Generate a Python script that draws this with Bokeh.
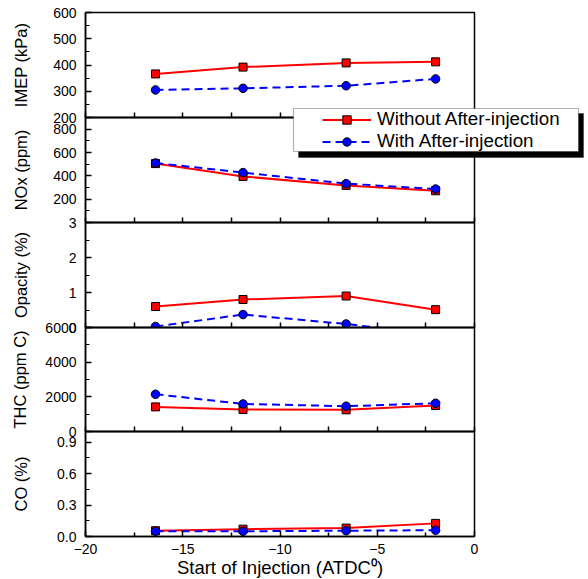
from bokeh.plotting import figure
from bokeh.layouts import column
from bokeh.models import (FixedTicker, Legend, LegendItem, BoxAnnotation,
                          NumeralTickFormatter, Range1d)
from bokeh.embed import file_html
from bokeh.resources import INLINE

# ---------------- data ----------------
soi = [-16.4, -11.9, -6.6, -2.0]

imep_without = [366, 392, 408, 412]
imep_with = [305, 311, 321, 347]

nox_without = [505, 395, 318, 272]
nox_with = [510, 428, 333, 287]

opacity_without = [0.60, 0.80, 0.90, 0.51]
opacity_with = [0.03, 0.37, 0.10, -0.20]

thc_without = [1420, 1270, 1250, 1500]
thc_with = [2150, 1590, 1460, 1630]

co_without = [0.055, 0.07, 0.08, 0.125]
co_with = [0.05, 0.05, 0.055, 0.06]

x_major = [-20, -15, -10, -5, 0]
x_minor = [-17.5, -12.5, -7.5, -2.5]

series_labels = ["Without After-injection", "With After-injection"]

panels = [
    dict(label="IMEP (kPa)", lo=200, hi=600, major=[200, 300, 400, 500, 600],
         minor=[250, 350, 450, 550], fmt="0", a=imep_without, b=imep_with,
         fh=105, lstand=20),
    dict(label="NOx (ppm)", lo=0, hi=900, major=[200, 400, 600, 800],
         minor=[100, 300, 500, 700], fmt="0", a=nox_without, b=nox_with,
         fh=105, lstand=20),
    dict(label="Opacity (%)", lo=0, hi=3, major=[0, 1, 2, 3],
         minor=[0.5, 1.5, 2.5], fmt="0", a=opacity_without, b=opacity_with,
         fh=105, lstand=36),
    dict(label="THC (ppm C)", lo=0, hi=6000, major=[0, 2000, 4000, 6000],
         minor=[1000, 3000, 5000], fmt="0", a=thc_without, b=thc_with,
         fh=104, lstand=13),
    dict(label="CO (%)", lo=0, hi=1.0, major=[0, 0.3, 0.6, 0.9],
         minor=[0.15, 0.45, 0.75], fmt="0.0", a=co_without, b=co_with,
         fh=105, lstand=24),
]

FONT = "Liberation Sans"
RED = "#FF0000"
BLUE = "#0000FF"
BLUE_DASH = "8 5"


def add_series(fig, ya_vals, yb_vals):
    rl = fig.line(soi, ya_vals, line_color=RED, line_width=2)
    bl = fig.line(soi, yb_vals, line_color=BLUE, line_width=2, line_dash=BLUE_DASH)
    rs = fig.scatter(soi, ya_vals, marker="square", size=8, fill_color=RED,
                     line_color="black", line_width=1)
    bs = fig.scatter(soi, yb_vals, marker="circle", size=8.5, fill_color=BLUE,
                     line_color="black", line_width=1)
    return rl, bl, rs, bs


figs = []
n = len(panels)
for i, spec in enumerate(panels):
    last = (i == n - 1)
    p = figure(frame_width=389, frame_height=spec["fh"],
               x_range=Range1d(-20, 0), y_range=Range1d(spec["lo"], spec["hi"]),
               output_backend="svg", toolbar_location=None,
               min_border_left=85, min_border_right=114,
               min_border_top=12, min_border_bottom=43 if last else 12)
    p.background_fill_color = None
    p.border_fill_color = None
    p.outline_line_color = "black"
    p.outline_line_width = 1.5
    p.grid.visible = False

    # y axis
    ya = p.yaxis[0]
    ya.ticker = FixedTicker(ticks=spec["major"], minor_ticks=spec["minor"])
    ya.formatter = NumeralTickFormatter(format=spec["fmt"])
    ya.axis_label = spec["label"]
    ya.axis_label_text_font = FONT
    ya.axis_label_text_font_size = "16.5px"
    ya.axis_label_text_font_style = "normal"
    ya.axis_label_text_color = "black"
    ya.axis_label_standoff = spec["lstand"]
    ya.major_label_text_font = FONT
    ya.major_label_text_font_size = "14px"
    ya.major_label_text_color = "black"
    ya.major_label_standoff = 9
    ya.major_tick_in = 6
    ya.major_tick_out = 0
    ya.minor_tick_in = 4
    ya.minor_tick_out = 0
    ya.axis_line_width = 1.5
    ya.major_tick_line_width = 1.5
    ya.minor_tick_line_width = 1.2

    # x axis
    xa = p.xaxis[0]
    xa.major_tick_out = 0
    xa.minor_tick_out = 0
    xa.axis_line_width = 1.5
    xa.major_tick_line_width = 1.5
    xa.minor_tick_line_width = 1.5
    if last:
        xa.ticker = FixedTicker(ticks=x_major, minor_ticks=x_minor)
        xa.major_tick_in = 6
        xa.minor_tick_in = 4
        xa.major_label_text_font = FONT
        xa.major_label_text_font_size = "14px"
        xa.major_label_text_color = "black"
        xa.major_label_standoff = 7
        xa.axis_label = "Start of Injection (ATDC\u2070)"
        xa.axis_label_text_font = FONT
        xa.axis_label_text_font_size = "18.5px"
        xa.axis_label_text_font_style = "normal"
        xa.axis_label_text_color = "black"
        xa.axis_label_standoff = 0
    else:
        # unlabelled shared boundary: ticks only
        xa.ticker = FixedTicker(ticks=[], minor_ticks=x_major + x_minor)
        xa.minor_tick_in = 5
        xa.major_label_standoff = 0

    add_series(p, spec["a"], spec["b"])

    if i > 0:
        p.styles = {"margin-top": "-24px"}
    figs.append(p)

# ---------------- legend overlay (own transparent frame, separate root) ----------------
lg = figure(width=588, height=58, x_range=Range1d(100, 101),
            y_range=Range1d(0, 1), output_backend="svg", toolbar_location=None,
            x_axis_location=None, y_axis_location=None,
            min_border_left=288, min_border_right=2,
            min_border_top=0, min_border_bottom=0)
lg.background_fill_color = None
lg.border_fill_color = None
lg.outline_line_color = None
lg.grid.visible = False

# same series drawn outside this overlay's visible range; used for legend icons
rl, bl, rs, bs = add_series(lg, imep_without, imep_with)

shadow = BoxAnnotation(left=10, right=295, top=48, bottom=4,
                       left_units="screen", right_units="screen",
                       top_units="screen", bottom_units="screen",
                       fill_color="black", fill_alpha=1, line_color="black")
box = BoxAnnotation(left=5, right=290, top=53, bottom=10,
                    left_units="screen", right_units="screen",
                    top_units="screen", bottom_units="screen",
                    fill_color="white", fill_alpha=1,
                    line_color="black", line_width=1.2)
lg.add_layout(shadow)
lg.add_layout(box)
legend = Legend(items=[LegendItem(label=series_labels[0], renderers=[rl, rs]),
                       LegendItem(label=series_labels[1], renderers=[bl, bs])],
                location=(34, 9), border_line_color=None,
                background_fill_alpha=0, padding=0, spacing=0, margin=0,
                glyph_width=49, glyph_height=21, label_height=21,
                label_standoff=6, label_text_font=FONT,
                label_text_font_size="18.8px", label_text_color="black")
lg.add_layout(legend, "center")
lg.styles = {"position": "absolute", "top": "103px", "left": "0px"}

layout = column(*figs, spacing=0)

p = [layout, lg]
open("out.html", "w").write(file_html(p, INLINE))
